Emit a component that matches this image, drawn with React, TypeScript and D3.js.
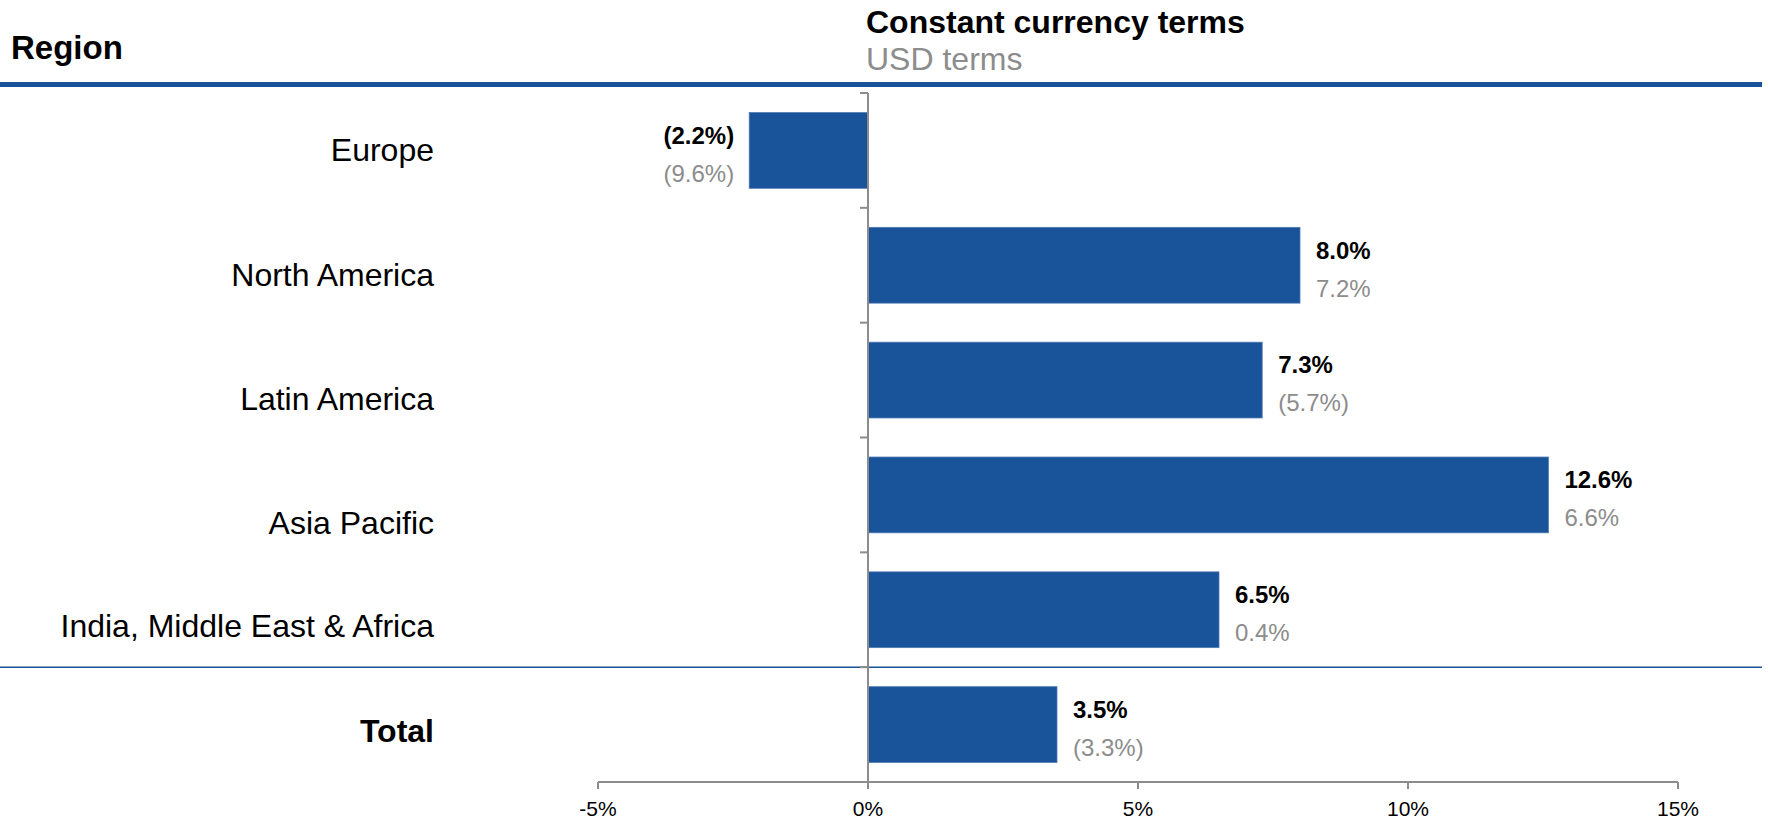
import React from "react";
import * as d3 from "d3";

const categories = ["Europe", "North America", "Latin America", "Asia Pacific", "India, Middle East & Africa", "Total"];
const constantCurrency = [-2.2, 8.0, 7.3, 12.6, 6.5, 3.5];
const usdTerms = [-9.6, 7.2, -5.7, 6.6, 0.4, -3.3];
const xTicks = [-5, 0, 5, 10, 15];
const headerRegion = "Region";
const headerConstant = "Constant currency terms";
const headerUsd = "USD terms";

const W = 1768;
const H = 820;
const BLUE = "#19539A";
const GRAY = "#8c8c8c";
const FONT = "Arial, 'Liberation Sans', Helvetica, sans-serif";

const fmt = (v: number) => (v < 0 ? `(${Math.abs(v).toFixed(1)}%)` : `${v.toFixed(1)}%`);

export default function App() {
  const x = d3.scaleLinear().domain([-5, 15]).range([598, 1678]);
  const y = d3.scaleBand<string>().domain(categories).range([93, 782]).paddingInner(0.34).paddingOuter(0.17);
  const step = y.step();
  const bw = y.bandwidth();
  const labelY = d3.scaleLinear().domain([0, 3, 4, 5]).range([150, 523, 626, 731]);
  const boundaries = d3.range(categories.length).map((i) => 93 + i * step);
  const sepY = 93 + (categories.length - 1) * step;
  const axisY = 782;

  return (
    <svg width={W} height={H} style={{ position: "absolute", left: 0, top: 0, background: "#fff" }} fontFamily={FONT}>
      {/* headers */}
      <text x={11} y={59} fontSize={33} fontWeight="bold" fill="#000">{headerRegion}</text>
      <text x={866} y={33} fontSize={32} fontWeight="bold" fill="#000">{headerConstant}</text>
      <text x={866} y={70} fontSize={32} fill={GRAY}>{headerUsd}</text>
      <rect x={0} y={82} width={1762} height={5} fill={BLUE} />

      {/* separator before total */}
      <line x1={0} x2={1762} y1={sepY} y2={sepY} stroke={BLUE} strokeWidth={1.5} />

      {/* bars */}
      {categories.map((c, i) => {
        const v = constantCurrency[i];
        const x0 = x(Math.min(0, v));
        const x1 = x(Math.max(0, v));
        return (
          <rect key={c} x={x0} y={y(c)} width={x1 - x0} height={bw} fill={BLUE} stroke="#4f7bb5" strokeWidth={0.8} />
        );
      })}

      {/* value labels */}
      {categories.map((c, i) => {
        const v = constantCurrency[i];
        const cy = (y(c) as number) + bw / 2;
        const neg = v < 0;
        const lx = neg ? x(v) - 15 : x(v) + 16;
        const anchor = neg ? "end" : "start";
        return (
          <g key={c + "lbl"}>
            <text x={lx} y={cy - 15} dy="0.35em" fontSize={24} fontWeight="bold" textAnchor={anchor} fill="#000">
              {fmt(v)}
            </text>
            <text x={lx} y={cy + 23} dy="0.35em" fontSize={24} textAnchor={anchor} fill={GRAY}>
              {fmt(usdTerms[i])}
            </text>
          </g>
        );
      })}

      {/* category labels */}
      {categories.map((c, i) => (
        <text
          key={c + "cat"}
          x={434}
          y={labelY(i)}
          dy="0.35em"
          fontSize={32}
          fontWeight={i === categories.length - 1 ? "bold" : "normal"}
          textAnchor="end"
          fill="#000"
        >
          {c}
        </text>
      ))}

      {/* vertical zero axis */}
      <line x1={x(0)} x2={x(0)} y1={93} y2={axisY} stroke={GRAY} strokeWidth={2} />
      {boundaries.map((b, i) => (
        <line key={"bt" + i} x1={x(0) - 8} x2={x(0)} y1={b} y2={b} stroke={GRAY} strokeWidth={2} />
      ))}

      {/* x axis */}
      <line x1={x(-5)} x2={x(15)} y1={axisY} y2={axisY} stroke={GRAY} strokeWidth={2} />
      {xTicks.map((t) => (
        <g key={"xt" + t}>
          <line x1={x(t)} x2={x(t)} y1={axisY} y2={axisY + 7} stroke={GRAY} strokeWidth={2} />
          <text x={x(t)} y={809} dy="0.35em" fontSize={21} textAnchor="middle" fill="#000">
            {`${t}%`}
          </text>
        </g>
      ))}
    </svg>
  );
}
